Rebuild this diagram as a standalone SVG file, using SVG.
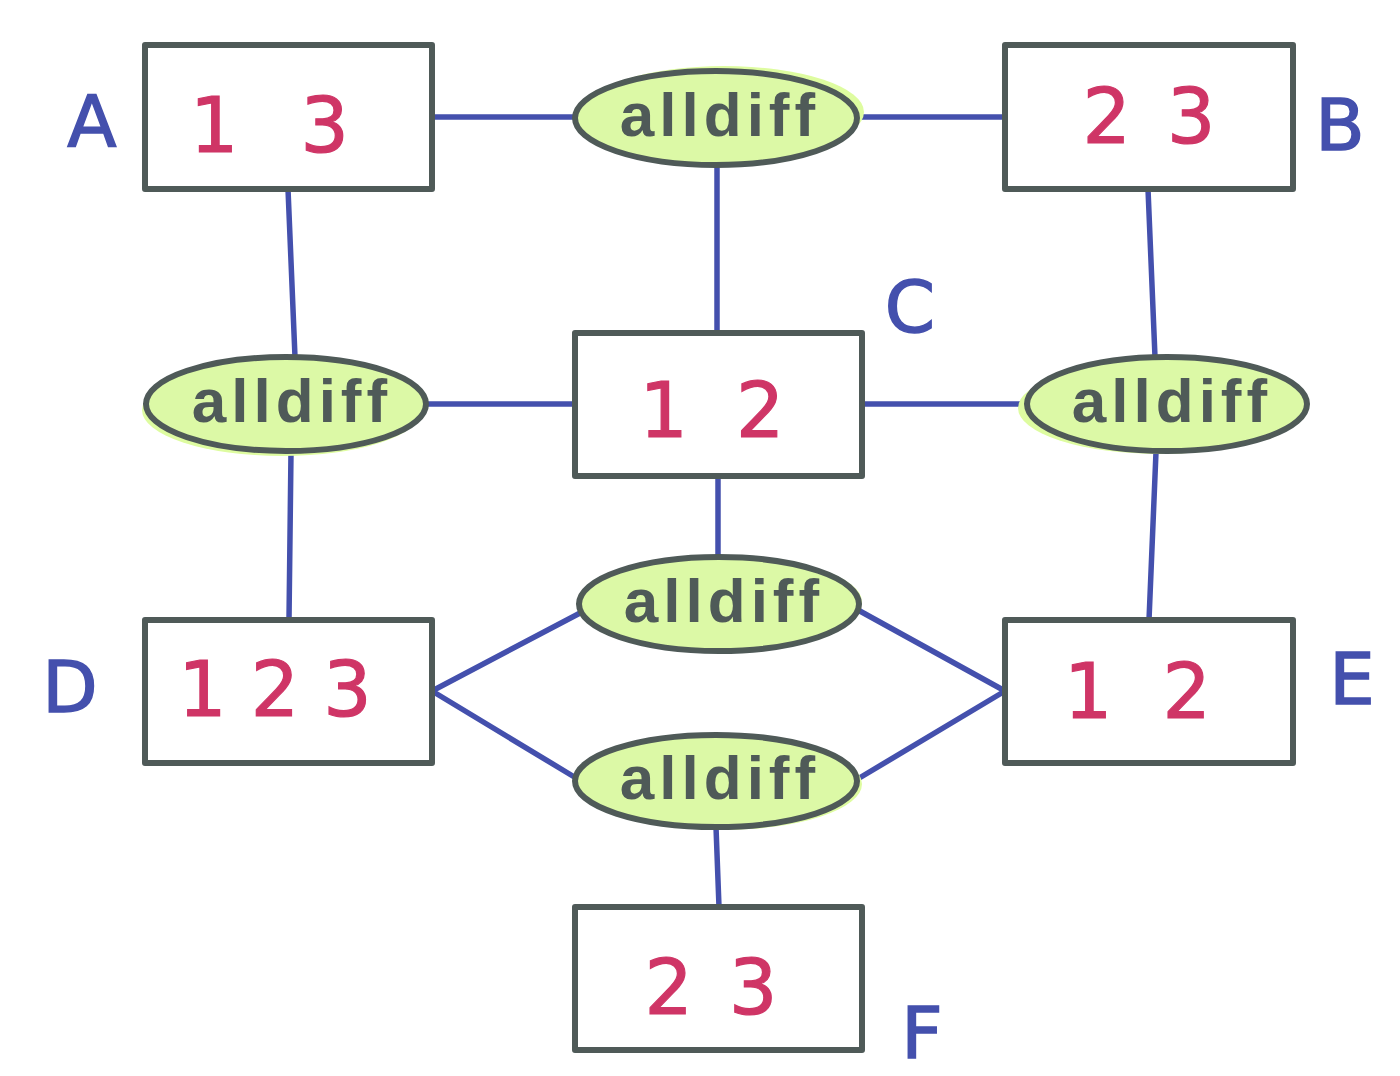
<svg xmlns="http://www.w3.org/2000/svg" width="1400" height="1076" viewBox="0 0 1400 1076">
<style>
.box{fill:#fff;stroke:#4f5a58;stroke-width:6;stroke-linejoin:round}
.ell{fill:#dcf9a6;stroke:#4f5a58;stroke-width:6}
.glow{fill:#defca0;stroke:none}
.con{stroke:#4450ad;stroke-width:5.5;stroke-linecap:round;fill:none}
.num{font-family:"DejaVu Sans","Liberation Sans",sans-serif;font-size:76px;fill:#cf3566;stroke:#cf3566;stroke-width:1.2;text-anchor:middle}
.lab{font-family:"DejaVu Sans","Liberation Sans",sans-serif;font-size:72px;fill:#4450ad;stroke:#4450ad;stroke-width:1.5;text-anchor:middle}
.ad{font-family:"Liberation Sans","DejaVu Sans",sans-serif;font-weight:bold;font-size:62px;fill:#4f5a58;text-anchor:middle;letter-spacing:5px}
</style>
<g id="connectors">
<line class="con" x1="432" y1="117" x2="575" y2="117"/>
<line class="con" x1="857" y1="117" x2="1005" y2="117"/>
<line class="con" x1="717" y1="165" x2="717" y2="333"/>
<line class="con" x1="288" y1="189" x2="295" y2="357"/>
<line class="con" x1="426" y1="404" x2="575" y2="404"/>
<line class="con" x1="862" y1="404" x2="1028" y2="404"/>
<line class="con" x1="1148" y1="189" x2="1155" y2="357"/>
<line class="con" x1="291" y1="452" x2="289" y2="620"/>
<line class="con" x1="1156" y1="452" x2="1149" y2="620"/>
<line class="con" x1="718" y1="476" x2="718" y2="557"/>
<line class="con" x1="432" y1="691" x2="582" y2="612"/>
<line class="con" x1="432" y1="691" x2="576" y2="778"/>
<line class="con" x1="1005" y1="691" x2="858" y2="610"/>
<line class="con" x1="1005" y1="691" x2="856" y2="780"/>
<line class="con" x1="716" y1="827" x2="719" y2="907"/>
</g>
<g id="A"><rect class="box" x="145" y="45" width="287" height="144"/><text class="num" x="279" y="152" letter-spacing="19">1 3</text><text class="lab" x="92" y="146">A</text></g>
<g id="B"><rect class="box" x="1005" y="45" width="288" height="144"/><text class="num" x="1152" y="143" letter-spacing="6">2 3</text><text class="lab" x="1340" y="150">B</text></g>
<g id="C"><rect class="box" x="575" y="333" width="287" height="143"/><text class="num" x="718" y="437" letter-spacing="12">1 2</text><text class="lab" x="910" y="332">C</text></g>
<g id="D"><rect class="box" x="145" y="620" width="287" height="143"/><text class="num" x="275" y="716">1 2 3</text><text class="lab" x="70" y="712">D</text></g>
<g id="E"><rect class="box" x="1005" y="620" width="288" height="143"/><text class="num" x="1144" y="718" letter-spacing="13">1 2</text><text class="lab" x="1352" y="704">E</text></g>
<g id="F"><rect class="box" x="575" y="907" width="287" height="143"/><text class="num" x="714" y="1014" letter-spacing="6">2 3</text><text class="lab" x="922" y="1058">F</text></g>
<g id="alldiff-top"><ellipse class="glow" cx="724" cy="112" rx="140" ry="46"/><ellipse class="ell" cx="716" cy="118" rx="141" ry="47"/><text class="ad" x="720" y="136">alldiff</text></g>
<g id="alldiff-left"><ellipse class="glow" cx="282" cy="410" rx="140" ry="46"/><ellipse class="ell" cx="286" cy="404" rx="140" ry="47"/><text class="ad" x="292" y="422">alldiff</text></g>
<g id="alldiff-right"><ellipse class="glow" cx="1160" cy="408" rx="142" ry="46"/><ellipse class="ell" cx="1167" cy="404" rx="140" ry="47"/><text class="ad" x="1172" y="422">alldiff</text></g>
<g id="alldiff-mid"><ellipse class="glow" cx="722" cy="602" rx="140" ry="46"/><ellipse class="ell" cx="719" cy="604" rx="140" ry="47"/><text class="ad" x="724" y="622">alldiff</text></g>
<g id="alldiff-bottom"><ellipse class="glow" cx="722" cy="784" rx="140" ry="46"/><ellipse class="ell" cx="716" cy="781" rx="141" ry="46"/><text class="ad" x="720" y="799">alldiff</text></g>
</svg>
